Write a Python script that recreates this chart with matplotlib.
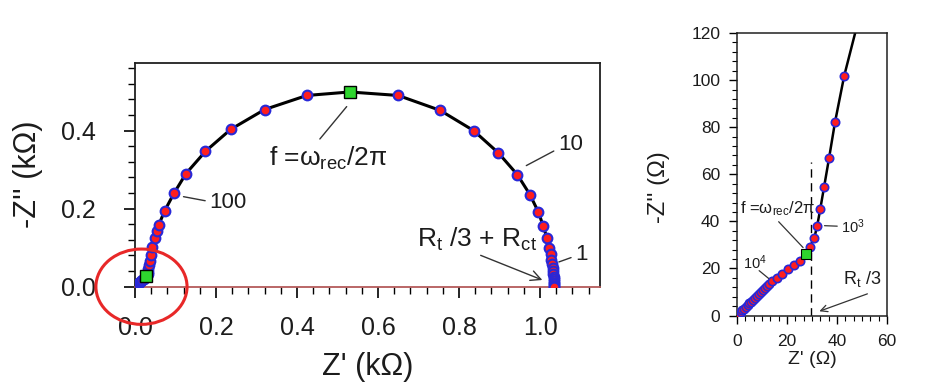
import numpy as np
import matplotlib.pyplot as plt
from matplotlib.patches import Ellipse
from matplotlib.ticker import MultipleLocator, AutoMinorLocator

plt.rcParams['font.family'] = ['Liberation Sans', 'DejaVu Sans']
plt.rcParams['mathtext.fontset'] = 'custom'
plt.rcParams['mathtext.rm'] = 'Liberation Sans'
plt.rcParams['mathtext.it'] = 'Liberation Sans'

# left panel, full spectrum (kOhm)
zre_k = [0.0, 0.003, 0.006, 0.009, 0.012, 0.015, 0.018, 0.021, 0.024,
         0.0292, 0.0309, 0.0321, 0.0333, 0.0348, 0.0368, 0.0392, 0.0429,
         0.050, 0.055, 0.059, 0.073, 0.096, 0.126, 0.174, 0.236, 0.320,
         0.424, 0.650, 0.753, 0.836, 0.897, 0.944, 0.975, 0.996, 1.008,
         1.017, 1.023, 1.026, 1.028, 1.030, 1.031, 1.032, 1.033, 1.034,
         1.034, 1.035, 1.035, 1.035, 1.035, 1.035]
zim_k = [0.0, 0.003, 0.006, 0.009, 0.012, 0.015, 0.018, 0.021, 0.024,
         0.029, 0.0329, 0.0382, 0.0452, 0.0544, 0.0667, 0.0821, 0.1019,
         0.125, 0.144, 0.159, 0.194, 0.239, 0.290, 0.347, 0.403, 0.454,
         0.490, 0.490, 0.452, 0.400, 0.343, 0.287, 0.236, 0.191, 0.155,
         0.125, 0.100, 0.083, 0.068, 0.057, 0.048, 0.040, 0.033, 0.026,
         0.020, 0.015, 0.010, 0.006, 0.003, 0.0]
sq_k_x = [0.027, 0.530]
sq_k_y = [0.027, 0.499]

# right panel, high frequency zoom (Ohm)
zre = [0.0, 0.7, 1.4, 2.1, 2.8, 3.5, 4.2, 4.9, 5.6, 6.3, 7.0, 7.8, 8.6,
       9.4, 10.2, 11.0, 11.9, 12.9, 13.9, 15.9, 17.9, 20.3, 22.9, 25.2,
       29.2, 30.9, 32.1, 33.3, 34.8, 36.8, 39.2, 42.9]
zim = [0.0, 0.7, 1.4, 2.2, 2.9, 3.6, 4.4, 5.1, 5.9, 6.6, 7.4, 8.2, 9.0,
       9.8, 10.7, 11.5, 12.4, 13.5, 14.6, 16.0, 17.7, 19.8, 21.6, 23.3,
       29.0, 32.9, 38.2, 45.2, 54.4, 66.7, 82.1, 101.9]
sq_x = [27.6]
sq_y = [26.3]
line_end_x = [47.5]
line_end_y = [121.0]
rt3 = 29.6

red = '#ff1e1e'
blue = '#2828d8'
green = '#2ed62e'
txt = '#1c1c1c'

fig = plt.figure(figsize=(9.26, 3.9), dpi=100)

# ---- left
ax = fig.add_axes([135/926, 1-286.7/390, 465/926, 224/390])
fit_x = zre_k[:9] + [sq_k_x[0]] + zre_k[9:27] + [sq_k_x[1]] + zre_k[27:]
fit_y = zim_k[:9] + [sq_k_y[0]] + zim_k[9:27] + [sq_k_y[1]] + zim_k[27:]
ax.plot(fit_x, fit_y, color='black', lw=2.2, zorder=2)
ax.plot(zre_k, zim_k, 'o', ms=7.0, mfc=red, mec=blue, mew=1.5, zorder=3)
ax.plot(sq_k_x, sq_k_y, 's', ms=8.5, mfc=green, mec='black', mew=1.0, zorder=4)
ax.set_xlim(0, 1.148)
ax.set_ylim(0, 0.574)
ax.xaxis.set_major_locator(MultipleLocator(0.2))
ax.xaxis.set_minor_locator(MultipleLocator(0.04))
ax.yaxis.set_major_locator(MultipleLocator(0.2))
ax.yaxis.set_minor_locator(MultipleLocator(0.04))
ax.xaxis.set_major_formatter(plt.FormatStrFormatter('%.1f'))
ax.yaxis.set_major_formatter(plt.FormatStrFormatter('%.1f'))
ax.tick_params(which='major', direction='out', length=8, width=1.2,
               labelsize=18, labelcolor=txt)
ax.tick_params(which='minor', direction='out', length=5, width=1.0)
ax.tick_params(axis='x', which='major', pad=13)
ax.tick_params(axis='y', which='major', pad=20)
for s in ax.spines.values():
    s.set_linewidth(1.3)
    s.set_color('#202020')
ax.spines['bottom'].set_color('#b45a5a')
ax.set_xlabel("Z' (k\u03a9)", fontsize=22, color=txt, labelpad=9)
ax.set_ylabel("-Z'' (k\u03a9)", fontsize=22, color=txt, labelpad=13)

ax.text(0.33, 0.33, "f =\u03c9$_{\\mathrm{rec}}$/2\u03c0", fontsize=19,
        color=txt, va='center')
ax.annotate('', xy=(0.452, 0.373), xytext=(0.527, 0.467),
            arrowprops=dict(arrowstyle='-', color='#333333', lw=1.0))
ax.text(1.045, 0.364, '10', fontsize=16, color=txt, va='center')
ax.annotate('', xy=(0.960, 0.307), xytext=(1.040, 0.351),
            arrowprops=dict(arrowstyle='-', color='#333333', lw=1.0))
ax.text(0.184, 0.215, '100', fontsize=16, color=txt, va='center')
ax.annotate('', xy=(0.113, 0.232), xytext=(0.180, 0.219),
            arrowprops=dict(arrowstyle='-', color='#333333', lw=1.0))
ax.text(0.697, 0.121, "R$_{\\mathrm{t}}$ /3 + R$_{\\mathrm{ct}}$", fontsize=19,
        color=txt, va='center')
ax.annotate('', xy=(1.012, 0.0145), xytext=(0.847, 0.083),
            arrowprops=dict(arrowstyle='->', color='#333333', lw=1.0,
                            mutation_scale=18))
ax.text(1.088, 0.083, '1', fontsize=16, color=txt, va='center')
ax.annotate('', xy=(1.040, 0.061), xytext=(1.083, 0.077),
            arrowprops=dict(arrowstyle='-', color='#333333', lw=1.0))
ax.add_patch(Ellipse((0.016, 0.0), 0.225, 0.193, fill=False,
                     ec='#e82828', lw=2.2, clip_on=False, zorder=6))

# ---- right
ax2 = fig.add_axes([737/926, 1-315.5/390, 150/926, 282.5/390])
rx = zre[:24] + sq_x + zre[24:] + line_end_x
ry = zim[:24] + sq_y + zim[24:] + line_end_y
ax2.plot(rx, ry, color='black', lw=1.8, zorder=2)
ax2.plot(zre, zim, 'o', ms=6.0, mfc=red, mec=blue, mew=1.2, zorder=3)
ax2.plot(sq_x, sq_y, 's', ms=6.5, mfc=green, mec='black', mew=0.8, zorder=4)
ax2.plot([rt3, rt3], [0, 65], color='black', lw=1.0, ls=(0, (6, 4)), zorder=1)
ax2.set_xlim(0, 60)
ax2.set_ylim(0, 120)
ax2.xaxis.set_major_locator(MultipleLocator(20))
ax2.xaxis.set_minor_locator(AutoMinorLocator(6))
ax2.yaxis.set_major_locator(MultipleLocator(20))
ax2.yaxis.set_minor_locator(MultipleLocator(4))
ax2.tick_params(which='major', direction='out', length=6, width=1.0,
                labelsize=12.5, labelcolor=txt)
ax2.tick_params(which='minor', direction='out', length=3.5, width=0.8)
ax2.tick_params(axis='x', which='major', pad=7)
ax2.tick_params(axis='y', which='major', pad=6)
for s in ax2.spines.values():
    s.set_linewidth(1.1)
    s.set_color('#202020')
ax2.set_xlabel("Z' (\u03a9)", fontsize=14, color=txt, labelpad=2)
ax2.set_ylabel("-Z'' (\u03a9)", fontsize=17, color=txt)
ax2.yaxis.set_label_coords(-0.45, 0.456)

ax2.text(1.2, 45.4, "f =\u03c9$_{\\mathrm{rec}}$/2\u03c0", fontsize=12,
         color=txt, va='center')
ax2.annotate('', xy=(27.2, 28.0), xytext=(15.9, 40.7),
             arrowprops=dict(arrowstyle='-', color='#333333', lw=0.9))
ax2.text(2.4, 22.5, "10$^{4}$", fontsize=10.5, color=txt, va='center')
ax2.annotate('', xy=(13.5, 15.0), xytext=(8.0, 19.8),
             arrowprops=dict(arrowstyle='-', color='#333333', lw=0.9))
ax2.text(41.6, 37.9, "10$^{3}$", fontsize=10.5, color=txt, va='center')
ax2.annotate('', xy=(33.9, 38.2), xytext=(41.2, 37.9),
             arrowprops=dict(arrowstyle='-', color='#333333', lw=0.9))
ax2.text(42.3, 15.3, "R$_{\\mathrm{t}}$ /3", fontsize=13, color=txt,
         va='center')
ax2.annotate('', xy=(31.9, 1.4), xytext=(53.2, 9.6),
             arrowprops=dict(arrowstyle='->', color='#333333', lw=0.9,
                             mutation_scale=12))

fig.savefig('out.png', dpi=100)
